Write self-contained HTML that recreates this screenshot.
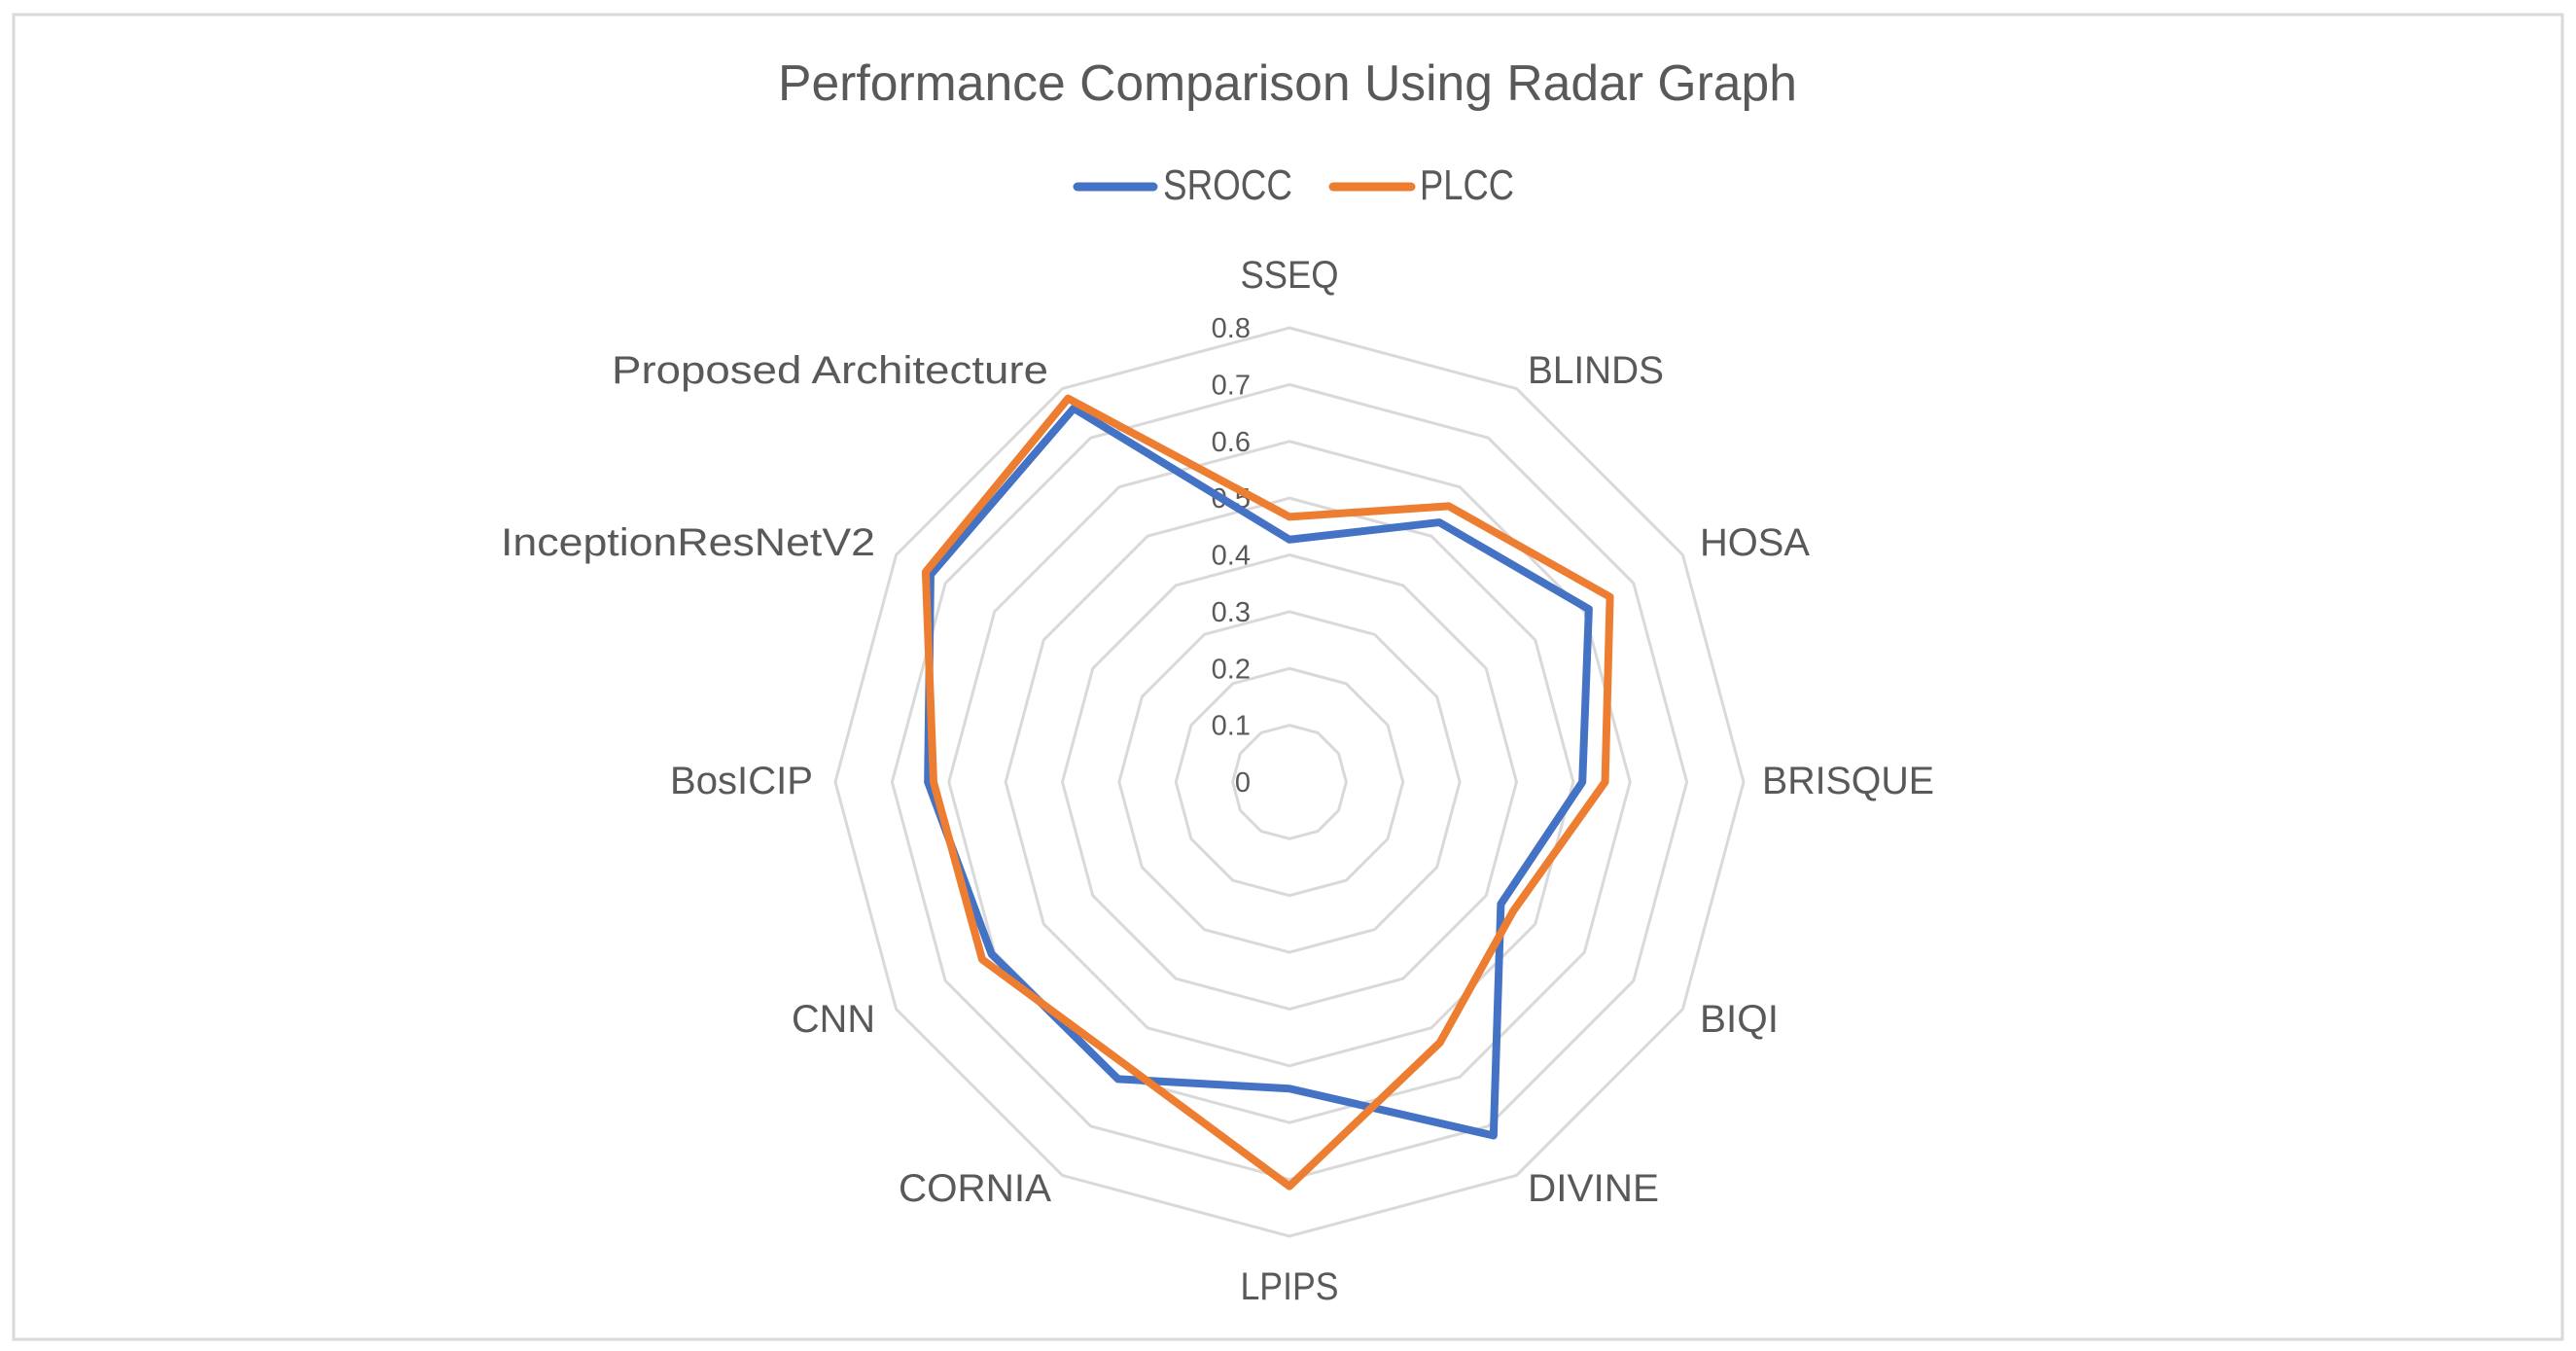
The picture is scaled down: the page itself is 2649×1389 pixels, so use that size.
<!DOCTYPE html>
<html><head><meta charset="utf-8"><style>
html,body{margin:0;padding:0;background:#fff;}
svg{display:block;font-family:"Liberation Sans",sans-serif;}
</style></head><body>
<svg id="chart" width="2649" height="1389" viewBox="0 0 2649 1389" xmlns="http://www.w3.org/2000/svg">
<rect x="14" y="15" width="2621" height="1362" fill="#fff" stroke="#d9d9d9" stroke-width="3"/>
<text x="1324" y="103" text-anchor="middle" font-size="52" fill="#595959" textLength="1048" lengthAdjust="spacingAndGlyphs">Performance Comparison Using Radar Graph</text>
<g>
<line x1="1108" y1="192" x2="1186" y2="192" stroke="#4472C4" stroke-width="9" stroke-linecap="round"/>
<text x="1196" y="205" font-size="44" fill="#595959" textLength="133" lengthAdjust="spacingAndGlyphs">SROCC</text>
<line x1="1371" y1="192" x2="1451" y2="192" stroke="#ED7D31" stroke-width="9" stroke-linecap="round"/>
<text x="1460" y="205" font-size="44" fill="#595959" textLength="97" lengthAdjust="spacingAndGlyphs">PLCC</text>
</g>
<g id="grid"></g>
<g id="ticks"></g>
<g id="series"></g>
<g id="cats"></g>
</svg>
<script>
const categories = ["SSEQ","BLINDS","HOSA","BRISQUE","BIQI","DIVINE","LPIPS","CORNIA","CNN","BosICIP","InceptionResNetV2","Proposed Architecture"];
const srocc = [0.427,0.528,0.609,0.516,0.43,0.719,0.54,0.604,0.606,0.637,0.73,0.76];
const plcc = [0.467,0.561,0.652,0.556,0.455,0.53,0.712,0.576,0.625,0.627,0.74,0.78];
const tickLabels = ["0","0.1","0.2","0.3","0.4","0.5","0.6","0.7","0.8"];
const tickValues = [0,0.1,0.2,0.3,0.4,0.5,0.6,0.7,0.8];

const NS = "http://www.w3.org/2000/svg";
const CX = 1326, CY = 804, RMAX = 467, VMAX = 0.8;
function r(v){ return v / VMAX * RMAX; }
function ang(i){ return i * 2 * Math.PI / categories.length; }
function pt(i, v){ const a = ang(i); return [CX + r(v) * Math.sin(a), CY - r(v) * Math.cos(a)]; }
function mk(tag, attrs){ const e = document.createElementNS(NS, tag); for (const k in attrs) e.setAttribute(k, attrs[k]); return e; }

const grid = document.getElementById('grid');
tickValues.forEach((tv, t) => {
  if (tv <= 0) return;
  const pts = categories.map((c, i) => pt(i, tv).join(',')).join(' ');
  const p = mk('polygon', {points: pts, fill: 'none', stroke: '#d9d9d9', 'stroke-width': 3});
  
  
  grid.appendChild(p);
});

const ticks = document.getElementById('ticks');
tickValues.forEach((tv, t) => {
  const [x, y] = pt(0, tv);
  const tx = mk('text', {x: x - 40, y: y + 10, 'text-anchor': 'end', 'font-size': 29, fill: '#595959'});
  tx.textContent = tickLabels[t];
  
  
  ticks.appendChild(tx);
});

const series = document.getElementById('series');
[[srocc, '#4472C4', 'srocc'], [plcc, '#ED7D31', 'plcc']].forEach(([vals, col, nm]) => {
  const pts = vals.map((v, i) => pt(i, v).join(',')).join(' ');
  const p = mk('polygon', {points: pts, fill: 'none', stroke: col, 'stroke-width': 8, 'stroke-linejoin': 'round'});
  
  
  series.appendChild(p);
});

// label layout (positions, anchors, widths) — layout only, not data
const labelLayout = [
  {x:1326,y:282,a:'middle',w:101},
  {x:1571,y:380,a:'start',w:140},
  {x:1748,y:557,a:'start',w:113},
  {x:1812,y:802,a:'start',w:177},
  {x:1748,y:1047,a:'start',w:81},
  {x:1571,y:1221,a:'start',w:135},
  {x:1326,y:1322,a:'middle',w:101},
  {x:1081,y:1221,a:'end',w:157},
  {x:900,y:1047,a:'end',w:86},
  {x:836,y:802,a:'end',w:147},
  {x:900,y:557,a:'end',w:385},
  {x:1078,y:380,a:'end',w:449}
];
const cats = document.getElementById('cats');
categories.forEach((c, i) => {
  const L = labelLayout[i];
  const tx = mk('text', {x: L.x, y: L.y + 14, 'text-anchor': L.a, 'font-size': 40, fill: '#595959', textLength: L.w, lengthAdjust: 'spacingAndGlyphs'});
  tx.textContent = c;
  
  
  cats.appendChild(tx);
});
</script>
</body></html>
